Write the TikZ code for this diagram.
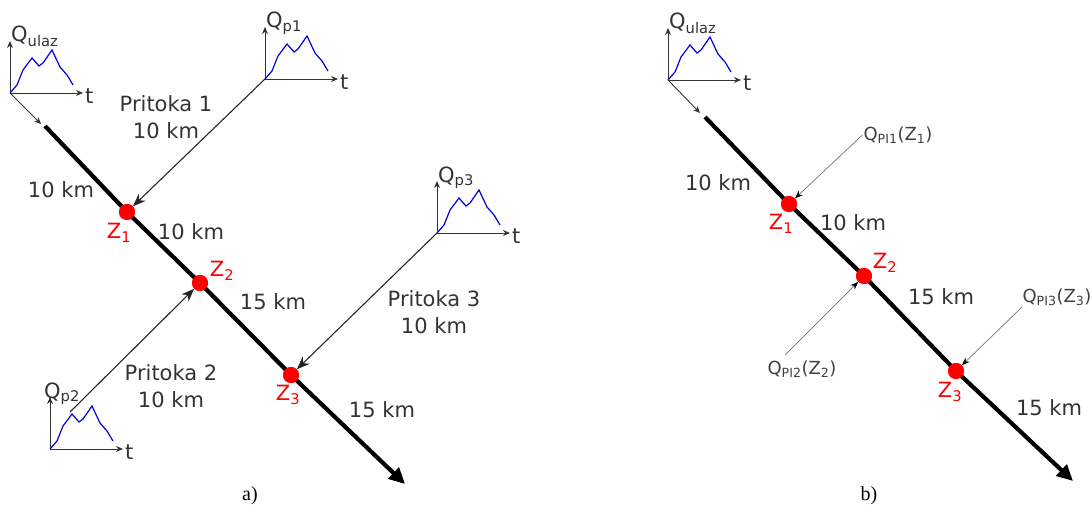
\documentclass[tikz,border=0pt]{standalone}
\usepackage{fontspec}
\setmainfont{DejaVu Sans}
\newfontfamily\capfont{Liberation Serif}
\usetikzlibrary{arrows.meta}

\begin{document}
\begin{tikzpicture}[
  x=1pt, y=-1pt,
  every node/.style={font=\fontsize{21}{27}\selectfont, text=black!80, inner sep=1pt},
  junction/.style={circle, fill=red, minimum size=16pt, inner sep=0pt},
  zlbl/.style={text=red},
  river/.style={line width=4.2pt, -{Triangle[length=16pt, width=15pt]}},
  inflow/.style={line width=1.1pt, black!85, -{Stealth[length=13pt, width=10pt]}},
  lateral/.style={line width=0.7pt, black!55, -{Stealth[length=8pt, width=6pt, black]}},
  axis/.style={line width=0.9pt, black!80, -{Stealth[length=7pt, width=6pt]}},
  flow/.style={blue!85!black, line width=1.2pt},
  qlbl/.style={font=\fontsize{18}{20}\selectfont, text=black!75},
  caption/.style={font=\capfont\fontsize{20}{22}\selectfont, text=black},
  pics/hydrograph/.style 2 args={code={
    \coordinate (-o) at (0,0);
    \draw[axis] (0,0) -- (0,-52);
    \draw[axis] (0,0) -- (73,0);
    \node[anchor=base west, inner sep=0pt] (-q) at (#2,-51) {#1};
    \node[anchor=west, inner sep=0pt] (-t) at (75,3) {t};
    \draw[flow] (0,0) -- (7,-8) -- (13,-23) -- (22,-35) -- (29,-27) -- (33,-30)
      -- (42,-43) -- (50,-26) -- (57,-18) -- (63,-8);
  }}
]
\useasboundingbox (0,0) rectangle (1092,508);

%%% a)
\pic (ua) at (10,93) {hydrograph={Q\textsubscript{ulaz}}{1}};
\pic (p1) at (265,79) {hydrograph={Q\textsubscript{p1}}{1}};
\pic (p2) at (50,449) {hydrograph={Q\textsubscript{p2}}{-6}};
\pic (p3) at (437,233) {hydrograph={Q\textsubscript{p3}}{1}};

\coordinate (a-in) at (41,124);
\coordinate (a-s) at (45,126);
\coordinate (a-e) at (405,484);
\coordinate (a-p2) at (70,412);
\node[junction] (aZ1) at (127,212) {};
\node[junction] (aZ2) at (200,283) {};
\node[junction] (aZ3) at (291,375) {};

% main channel
\draw[axis] (ua-o) -- (a-in);
\draw[river] (a-s) -- (aZ1.center) -- (aZ2.center) -- (aZ3.center) -- (a-e);
\node[junction] at (aZ1) {};
\node[junction] at (aZ2) {};
\node[junction] at (aZ3) {};

% tributaries
\draw[inflow] (p1-o) -- (aZ1);
\draw[inflow] (a-p2) -- (aZ2);
\draw[inflow] (p3-o) -- (aZ3);

\node[zlbl] (aZ1l) at (119,233) {Z\textsubscript{1}};
\node[zlbl] (aZ2l) at (222,271) {Z\textsubscript{2}};
\node[zlbl] (aZ3l) at (288,395) {Z\textsubscript{3}};

\node (a-d0) at (61,190) {10 km};
\node (a-d1) at (191,232) {10 km};
\node (a-d2) at (273,302) {15 km};
\node (a-d3) at (382,410) {15 km};
\node[align=center] (t1) at (166,117) {Pritoka 1\\10 km};
\node[align=center] (t2) at (171,386) {Pritoka 2\\10 km};
\node[align=center] (t3) at (434,312) {Pritoka 3\\10 km};

\node[caption] (capa) at (250,496) {a)};

%%% b)
\pic (ub) at (668,80) {hydrograph={Q\textsubscript{ulaz}}{1}};

\coordinate (b-in) at (700,113);
\coordinate (b-s) at (705,117);
\coordinate (b-e) at (1073,481);
\node[junction] (bZ1) at (789,204) {};
\node[junction] (bZ2) at (864,276) {};
\node[junction] (bZ3) at (956,371) {};

% main channel
\draw[axis] (ub-o) -- (b-in);
\draw[river] (b-s) -- (bZ1.center) -- (bZ2.center) -- (bZ3.center) -- (b-e);
\node[junction] at (bZ1) {};
\node[junction] at (bZ2) {};
\node[junction] at (bZ3) {};

% lateral inflows
\node[qlbl] (q1) at (898,135) {Q\textsubscript{PI1}(Z\textsubscript{1})};
\node[qlbl] (q2) at (802,369) {Q\textsubscript{PI2}(Z\textsubscript{2})};
\node[qlbl] (q3) at (1057,297) {Q\textsubscript{PI3}(Z\textsubscript{3})};
\coordinate (b-l2) at (785,355);
\coordinate (b-l3) at (1022,307);
\draw[lateral] (q1.west) -- (bZ1);
\draw[lateral] (b-l2) -- (bZ2);
\draw[lateral] (b-l3) -- (bZ3);

\node[zlbl] (bZ1l) at (781,224) {Z\textsubscript{1}};
\node[zlbl] (bZ2l) at (885,263) {Z\textsubscript{2}};
\node[zlbl] (bZ3l) at (950,392) {Z\textsubscript{3}};

\node (b-d0) at (718,183) {10 km};
\node (b-d1) at (853,223) {10 km};
\node (b-d2) at (941,297) {15 km};
\node (b-d3) at (1049,408) {15 km};

\node[caption] (capb) at (869,496) {b)};
\end{tikzpicture}
\end{document}
